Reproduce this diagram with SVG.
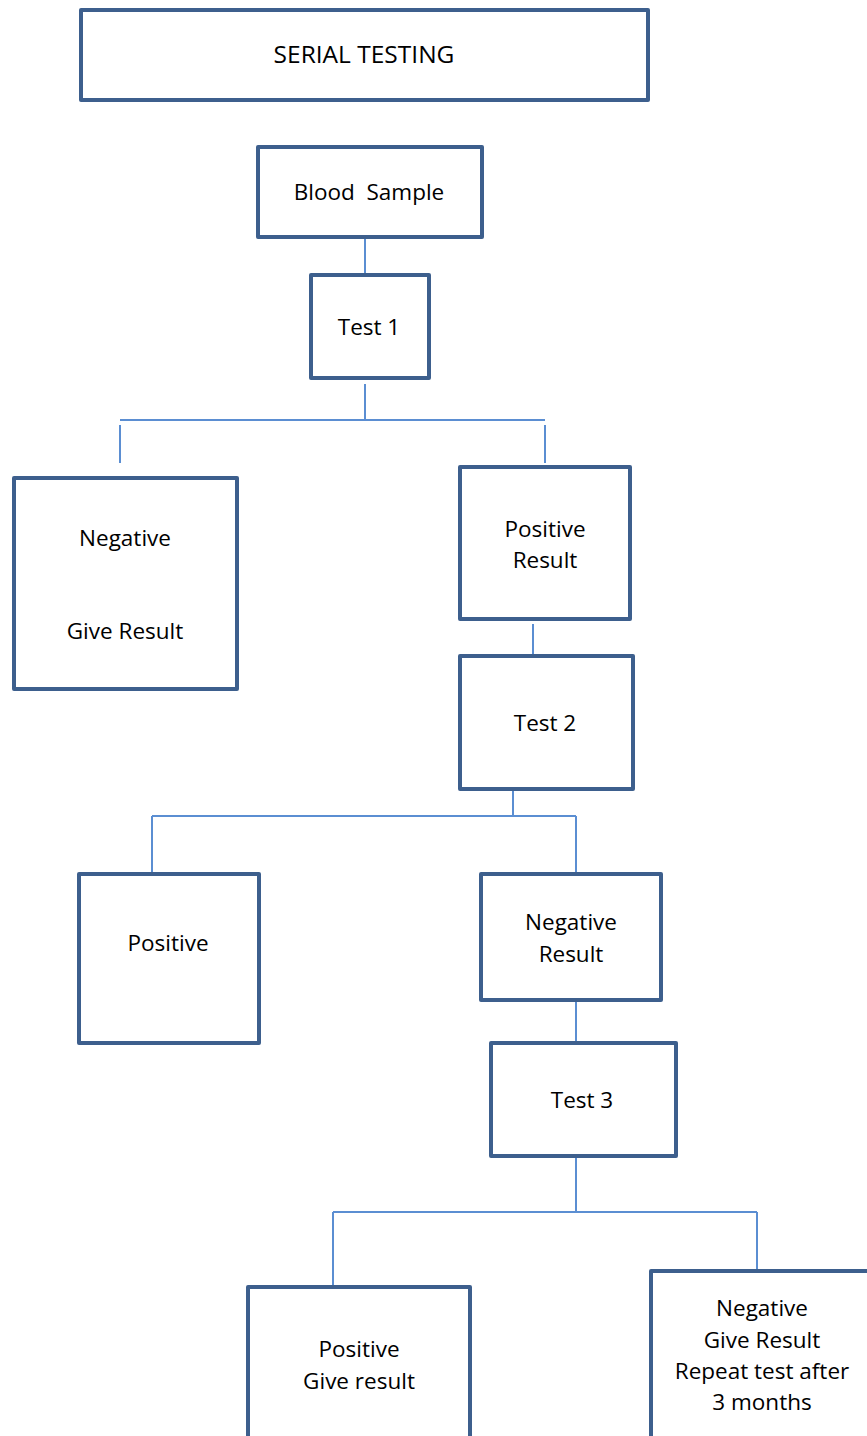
<svg xmlns="http://www.w3.org/2000/svg" width="867" height="1436" viewBox="0 0 867 1436">
<style>
.box{fill:#fff;stroke:#3d5f8d;stroke-width:4;stroke-linejoin:round}
.lbl{font-family:"Open Sans","Liberation Sans",sans-serif;font-size:22.5px;fill:#000;text-anchor:middle;white-space:pre}
.con{fill:none;stroke:#5b8ed2;stroke-width:2}
</style>
<rect width="867" height="1436" fill="#fff"/>
<g id="connectors">
<path class="con" d="M365 238V276"/>
<path class="con" d="M365 384V420M120 420H545M120 425V463M545 425V463"/>
<path class="con" d="M533 624V661"/>
<path class="con" d="M513 789V816M152 816H576M152 816V874M576 816V874"/>
<path class="con" d="M576 988V1043"/>
<path class="con" d="M576 1156V1212M333 1212H757M333 1212V1287M757 1212V1287"/>
</g>
<g id="serial"><rect class="box" x="81" y="10" width="567" height="90"/><text class="lbl" x="364" y="63" style="font-size:24.5px">SERIAL TESTING</text></g>
<g id="blood"><rect class="box" x="258" y="147" width="224" height="90"/><text class="lbl" x="369" y="200" xml:space="preserve">Blood  Sample</text></g>
<g id="test1"><rect class="box" x="311" y="275" width="118" height="103"/><text class="lbl" x="369" y="335">Test 1</text></g>
<g id="neg1"><rect class="box" x="14" y="478" width="223" height="211"/><text class="lbl" x="125" y="546">Negative</text><text class="lbl" x="125" y="639">Give Result</text></g>
<g id="pos1"><rect class="box" x="460" y="467" width="170" height="152"/><text class="lbl" x="545" y="537">Positive</text><text class="lbl" x="545" y="568">Result</text></g>
<g id="test2"><rect class="box" x="460" y="656" width="173" height="133"/><text class="lbl" x="545" y="731">Test 2</text></g>
<g id="pos2"><rect class="box" x="79" y="874" width="180" height="169"/><text class="lbl" x="168" y="951">Positive</text></g>
<g id="neg2"><rect class="box" x="481" y="874" width="180" height="126"/><text class="lbl" x="571" y="930">Negative</text><text class="lbl" x="571" y="962">Result</text></g>
<g id="test3"><rect class="box" x="491" y="1043" width="185" height="113"/><text class="lbl" x="582" y="1108">Test 3</text></g>
<g id="pos3"><rect class="box" x="248" y="1287" width="222" height="160"/><text class="lbl" x="359" y="1357">Positive</text><text class="lbl" x="359" y="1389">Give result</text></g>
<g id="neg3"><rect class="box" x="651" y="1271" width="230" height="180"/><text class="lbl" x="762" y="1316">Negative</text><text class="lbl" x="762" y="1348">Give Result</text><text class="lbl" x="762" y="1379">Repeat test after</text><text class="lbl" x="762" y="1410">3 months</text></g>
</svg>
